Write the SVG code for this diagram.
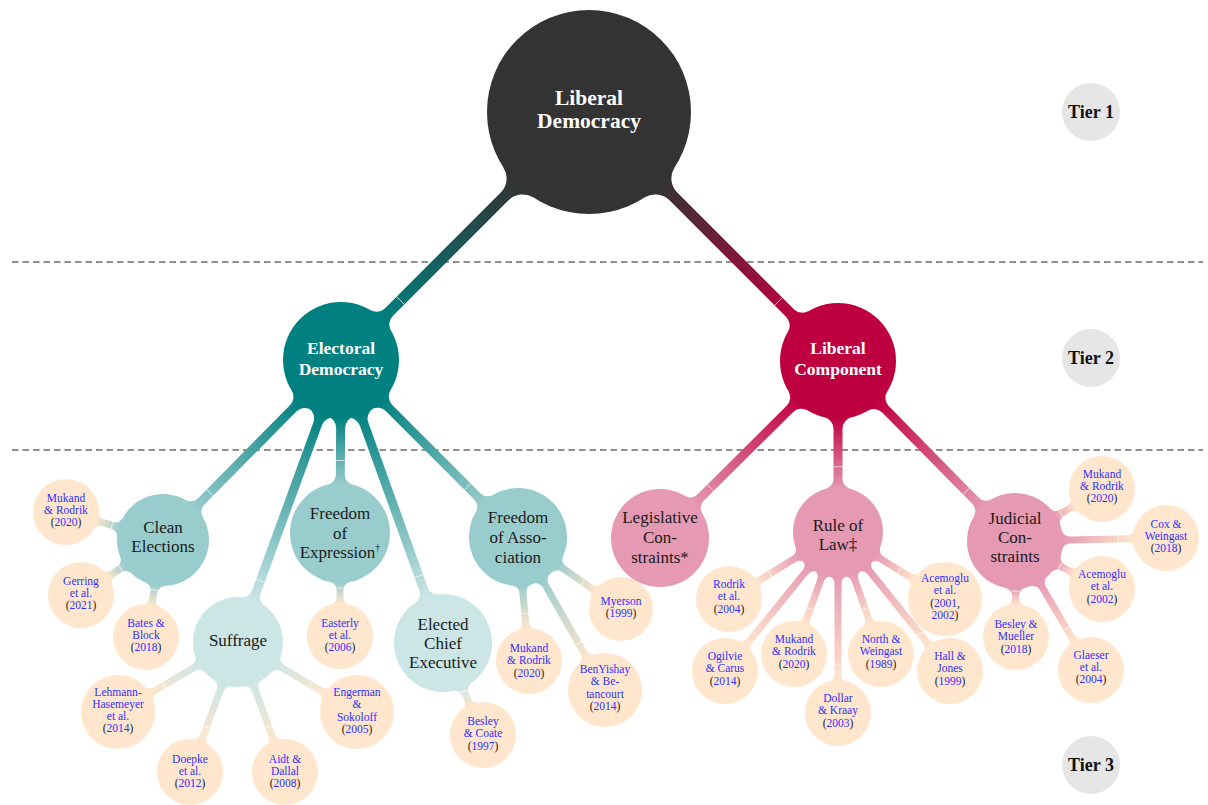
<svg xmlns="http://www.w3.org/2000/svg" width="1208" height="805" viewBox="0 0 1208 805">
<defs>
<style>
.dash{stroke:#222;stroke-width:1.1;stroke-dasharray:6.5 4;fill:none}
.mk{stroke:#fff;stroke-width:0.8;opacity:0.85;fill:none}
.root{fill:#333333}.ed{fill:#008080}.lc{fill:#bf0040}
.t4{fill:#99cccc}.t2{fill:#cce6e6}.p4{fill:#e599b3}.lf{fill:#ffe6cc}.tier{fill:#e6e6e6}
text{font-family:"Liberation Serif","DejaVu Serif",serif;text-anchor:middle}
.w1{font-size:21.5px;font-weight:bold;fill:#fff}
.w2{font-size:17.5px;font-weight:bold;fill:#fff}
.c3{font-size:17px;fill:#1a1a1a}
.lt{font-size:11.5px;fill:#3030ff}
.k{fill:#222}
.tl{font-size:18px;font-weight:bold;fill:#111}
</style>
<linearGradient id="gRE" x1="0" y1="0" x2="1" y2="0"><stop offset="0" stop-color="#333333"/><stop offset="1" stop-color="#008080"/></linearGradient>
<linearGradient id="gRL" x1="0" y1="0" x2="1" y2="0"><stop offset="0" stop-color="#333333"/><stop offset="1" stop-color="#bf0040"/></linearGradient>
<linearGradient id="gE4" x1="0" y1="0" x2="1" y2="0"><stop offset="0" stop-color="#008080"/><stop offset="1" stop-color="#99cccc"/></linearGradient>
<linearGradient id="gE2" x1="0" y1="0" x2="1" y2="0"><stop offset="0" stop-color="#008080"/><stop offset="1" stop-color="#cce6e6"/></linearGradient>
<linearGradient id="gLP" x1="0" y1="0" x2="1" y2="0"><stop offset="0" stop-color="#bf0040"/><stop offset="1" stop-color="#e599b3"/></linearGradient>
<linearGradient id="gT4" x1="0" y1="0" x2="1" y2="0"><stop offset="0" stop-color="#99cccc"/><stop offset="1" stop-color="#ffe6cc"/></linearGradient>
<linearGradient id="gT2" x1="0" y1="0" x2="1" y2="0"><stop offset="0" stop-color="#cce6e6"/><stop offset="1" stop-color="#ffe6cc"/></linearGradient>
<linearGradient id="gP4" x1="0" y1="0" x2="1" y2="0"><stop offset="0" stop-color="#e599b3"/><stop offset="1" stop-color="#ffe6cc"/></linearGradient>
</defs>

<g id="tier-lines">
<line class="dash" x1="12" y1="262" x2="1203" y2="262"/>
<line class="dash" x1="12" y1="450" x2="1203" y2="450"/>
</g>

<g id="connectors">
<g transform="translate(589,112) rotate(135)"><path fill="url(#gRE)" d="M99.75,-21.32A20 20 0 0 0 119.31,-5.5L282.94,-5.5A12 12 0 0 0 294.56,-14.5L294.56,14.5A12 12 0 0 0 282.94,5.5L119.31,5.5A20 20 0 0 0 99.75,21.32Z"/><path class="mk" d="M266.6,-5.5V5.5"/></g>
<g transform="translate(589,112) rotate(45)"><path fill="url(#gRL)" d="M99.75,-21.32A20 20 0 0 0 119.31,-5.5L284.36,-5.5A12 12 0 0 0 295.98,-14.5L295.98,14.5A12 12 0 0 0 284.36,5.5L119.31,5.5A20 20 0 0 0 99.75,21.32Z"/><path class="mk" d="M268,-5.5V5.5"/></g>

<g transform="translate(341,360) rotate(134.68)"><path fill="url(#gE4)" d="M56.37,-13.67A12 12 0 0 0 68.03,-4.5L199.06,-4.5A10 10 0 0 0 208.72,-11.91L208.72,11.91A10 10 0 0 0 199.06,4.5L68.03,4.5A12 12 0 0 0 56.37,13.67Z"/><path class="mk" d="M186.45,-4.5V4.5"/></g>
<g transform="translate(341,360) rotate(90.33)"><path fill="url(#gE4)" d="M56.37,-13.67A12 12 0 0 0 68.03,-4.5L114.78,-4.5A10 10 0 0 0 124.48,-12.08L124.48,12.08A10 10 0 0 0 114.78,4.5L68.03,4.5A12 12 0 0 0 56.37,13.67Z"/><path class="mk" d="M100.5,-4.5V4.5"/></g>
<g transform="translate(341,360) rotate(110.07)"><path fill="url(#gE2)" d="M56.37,-13.67A12 12 0 0 0 68.03,-4.5L247.17,-4.5A10 10 0 0 0 256.81,-11.86L256.81,11.86A10 10 0 0 0 247.17,4.5L68.03,4.5A12 12 0 0 0 56.37,13.67Z"/><path class="mk" d="M234.97,-4.5V4.5"/></g>
<g transform="translate(341,360) rotate(70.18)"><path fill="url(#gE2)" d="M56.37,-13.67A12 12 0 0 0 68.03,-4.5L243.63,-4.5A10 10 0 0 0 253.32,-12.04L253.32,12.04A10 10 0 0 0 243.63,4.5L68.03,4.5A12 12 0 0 0 56.37,13.67Z"/><path class="mk" d="M229.77,-4.5V4.5"/></g>
<g transform="translate(341,360) rotate(45)"><path fill="url(#gE4)" d="M56.37,-13.67A12 12 0 0 0 68.03,-4.5L193.13,-4.5A10 10 0 0 0 202.82,-12.04L202.82,12.04A10 10 0 0 0 193.13,4.5L68.03,4.5A12 12 0 0 0 56.37,13.67Z"/><path class="mk" d="M179.27,-4.5V4.5"/></g>
<g transform="translate(838,361) rotate(135.16)"><path fill="url(#gLP)" d="M56.37,-13.67A12 12 0 0 0 68.03,-4.5L193.83,-4.5A10 10 0 0 0 203.52,-12.04L203.52,12.04A10 10 0 0 0 193.83,4.5L68.03,4.5A12 12 0 0 0 56.37,13.67Z"/><path class="mk" d="M179.97,-4.5V4.5"/></g>
<g transform="translate(838,361) rotate(90)"><path fill="url(#gLP)" d="M56.37,-13.67A12 12 0 0 0 68.03,-4.5L117.95,-4.5A10 10 0 0 0 127.59,-11.86L127.59,11.86A10 10 0 0 0 117.95,4.5L68.03,4.5A12 12 0 0 0 56.37,13.67Z"/><path class="mk" d="M105.75,-4.5V4.5"/></g>
<g transform="translate(838,361) rotate(45.48)"><path fill="url(#gLP)" d="M56.37,-13.67A12 12 0 0 0 68.03,-4.5L196.29,-4.5A10 10 0 0 0 205.98,-12L205.98,12A10 10 0 0 0 196.29,4.5L68.03,4.5A12 12 0 0 0 56.37,13.67Z"/><path class="mk" d="M182.85,-4.5V4.5"/></g>

<g transform="translate(163,540) rotate(-163.9)"><path fill="url(#gT4)" d="M44.95,-9.8A8 8 0 0 0 52.76,-3.5L62.36,-3.5A7 7 0 0 0 69.12,-8.66L69.12,8.66A7 7 0 0 0 62.36,3.5L52.76,3.5A8 8 0 0 0 44.95,9.8Z"/><path class="mk" d="M53.11,-3.5V3.5"/></g>
<g transform="translate(163,540) rotate(146.15)"><path fill="url(#gT4)" d="M44.95,-9.8A8 8 0 0 0 52.76,-3.5L60.14,-3.5A7 7 0 0 0 66.9,-8.66L66.9,8.66A7 7 0 0 0 60.14,3.5L52.76,3.5A8 8 0 0 0 44.95,9.8Z"/><path class="mk" d="M50.89,-3.5V3.5"/></g>
<g transform="translate(163,540) rotate(99.94)"><path fill="url(#gT4)" d="M44.95,-9.8A8 8 0 0 0 52.76,-3.5L59.88,-3.5A7 7 0 0 0 66.64,-8.66L66.64,8.66A7 7 0 0 0 59.88,3.5L52.76,3.5A8 8 0 0 0 44.95,9.8Z"/><path class="mk" d="M50.63,-3.5V3.5"/></g>

<g transform="translate(238,642) rotate(149.74)"><path fill="url(#gT2)" d="M43.93,-9.76A8 8 0 0 0 51.74,-3.5L96.19,-3.5A7 7 0 0 0 102.99,-8.83L102.99,8.83A7 7 0 0 0 96.19,3.5L51.74,3.5A8 8 0 0 0 43.93,9.76Z"/><path class="mk" d="M85.27,-3.5V3.5"/></g>
<g transform="translate(238,642) rotate(110.27)"><path fill="url(#gT2)" d="M43.93,-9.76A8 8 0 0 0 51.74,-3.5L99.98,-3.5A7 7 0 0 0 106.74,-8.66L106.74,8.66A7 7 0 0 0 99.98,3.5L51.74,3.5A8 8 0 0 0 43.93,9.76Z"/><path class="mk" d="M90.73,-3.5V3.5"/></g>
<g transform="translate(238,642) rotate(70.12)"><path fill="url(#gT2)" d="M43.93,-9.76A8 8 0 0 0 51.74,-3.5L99.63,-3.5A7 7 0 0 0 106.39,-8.66L106.39,8.66A7 7 0 0 0 99.63,3.5L51.74,3.5A8 8 0 0 0 43.93,9.76Z"/><path class="mk" d="M90.38,-3.5V3.5"/></g>
<g transform="translate(238,642) rotate(30.47)"><path fill="url(#gT2)" d="M43.93,-9.76A8 8 0 0 0 51.74,-3.5L95.33,-3.5A7 7 0 0 0 102.13,-8.83L102.13,8.83A7 7 0 0 0 95.33,3.5L51.74,3.5A8 8 0 0 0 43.93,9.76Z"/><path class="mk" d="M84.41,-3.5V3.5"/></g>

<g transform="translate(340,533) rotate(90)"><path fill="url(#gT4)" d="M49.01,-9.91A8 8 0 0 0 56.85,-3.5L64.4,-3.5A7 7 0 0 0 71.16,-8.66L71.16,8.66A7 7 0 0 0 64.4,3.5L56.85,3.5A8 8 0 0 0 49.01,9.91Z"/><path class="mk" d="M55.15,-3.5V3.5"/></g>

<g transform="translate(443,643) rotate(66.5)"><path fill="url(#gT2)" d="M47.99,-9.89A8 8 0 0 0 55.83,-3.5L61.72,-3.5A7 7 0 0 0 68.48,-8.66L68.48,8.66A7 7 0 0 0 61.72,3.5L55.83,3.5A8 8 0 0 0 47.99,9.89Z"/><path class="mk" d="M52.47,-3.5V3.5"/></g>

<g transform="translate(518,537) rotate(84.93)"><path fill="url(#gT4)" d="M47.99,-9.89A8 8 0 0 0 55.83,-3.5L85.89,-3.5A7 7 0 0 0 92.65,-8.66L92.65,8.66A7 7 0 0 0 85.89,3.5L55.83,3.5A8 8 0 0 0 47.99,9.89Z"/><path class="mk" d="M76.64,-3.5V3.5"/></g>
<g transform="translate(518,537) rotate(60.38)"><path fill="url(#gT4)" d="M47.99,-9.89A8 8 0 0 0 55.83,-3.5L133.28,-3.5A7 7 0 0 0 140.08,-8.83L140.08,8.83A7 7 0 0 0 133.28,3.5L55.83,3.5A8 8 0 0 0 47.99,9.89Z"/><path class="mk" d="M122.36,-3.5V3.5"/></g>
<g transform="translate(518,537) rotate(34.96)"><path fill="url(#gT4)" d="M47.99,-9.89A8 8 0 0 0 55.83,-3.5L88.11,-3.5A7 7 0 0 0 94.85,-8.62L94.85,8.62A7 7 0 0 0 88.11,3.5L55.83,3.5A8 8 0 0 0 47.99,9.89Z"/><path class="mk" d="M79.27,-3.5V3.5"/></g>

<g transform="translate(838,532) rotate(148.42)"><path fill="url(#gP4)" d="M43.93,-9.76A8 8 0 0 0 51.74,-3.5L89.35,-3.5A7 7 0 0 0 96.11,-8.66L96.11,8.66A7 7 0 0 0 89.35,3.5L51.74,3.5A8 8 0 0 0 43.93,9.76Z"/><path class="mk" d="M80.1,-3.5V3.5"/></g>
<g transform="translate(838,532) rotate(129.11)"><path fill="url(#gP4)" d="M43.93,-9.76A8 8 0 0 0 51.74,-3.5L140.54,-3.5A7 7 0 0 0 147.3,-8.66L147.3,8.66A7 7 0 0 0 140.54,3.5L51.74,3.5A8 8 0 0 0 43.93,9.76Z"/><path class="mk" d="M131.29,-3.5V3.5"/></g>
<g transform="translate(838,532) rotate(109.83)"><path fill="url(#gP4)" d="M43.93,-9.76A8 8 0 0 0 51.74,-3.5L91.09,-3.5A7 7 0 0 0 97.85,-8.66L97.85,8.66A7 7 0 0 0 91.09,3.5L51.74,3.5A8 8 0 0 0 43.93,9.76Z"/><path class="mk" d="M81.84,-3.5V3.5"/></g>
<g transform="translate(838,532) rotate(90)"><path fill="url(#gP4)" d="M43.93,-9.76A8 8 0 0 0 51.74,-3.5L142.4,-3.5A7 7 0 0 0 149.16,-8.66L149.16,8.66A7 7 0 0 0 142.4,3.5L51.74,3.5A8 8 0 0 0 43.93,9.76Z"/><path class="mk" d="M133.15,-3.5V3.5"/></g>
<g transform="translate(838,532) rotate(70.59)"><path fill="url(#gP4)" d="M43.93,-9.76A8 8 0 0 0 51.74,-3.5L90.76,-3.5A7 7 0 0 0 97.52,-8.66L97.52,8.66A7 7 0 0 0 90.76,3.5L51.74,3.5A8 8 0 0 0 43.93,9.76Z"/><path class="mk" d="M81.51,-3.5V3.5"/></g>
<g transform="translate(838,532) rotate(51.14)"><path fill="url(#gP4)" d="M43.93,-9.76A8 8 0 0 0 51.74,-3.5L139.91,-3.5A7 7 0 0 0 146.67,-8.66L146.67,8.66A7 7 0 0 0 139.91,3.5L51.74,3.5A8 8 0 0 0 43.93,9.76Z"/><path class="mk" d="M130.66,-3.5V3.5"/></g>
<g transform="translate(838,532) rotate(32.05)"><path fill="url(#gP4)" d="M43.93,-9.76A8 8 0 0 0 51.74,-3.5L83.52,-3.5A7 7 0 0 0 90.32,-8.83L90.32,8.83A7 7 0 0 0 83.52,3.5L51.74,3.5A8 8 0 0 0 43.93,9.76Z"/><path class="mk" d="M72.6,-3.5V3.5"/></g>

<g transform="translate(1015,541) rotate(89.4)"><path fill="url(#gP4)" d="M46.98,-9.86A8 8 0 0 0 54.81,-3.5L57.41,-3.5A7 7 0 0 0 64.17,-8.66L64.17,8.66A7 7 0 0 0 57.41,3.5L54.81,3.5A8 8 0 0 0 46.98,9.86Z"/><path class="mk" d="M50.2,-3.5V3.5"/></g>
<g transform="translate(1015,541) rotate(59.5)"><path fill="url(#gP4)" d="M46.98,-9.86A8 8 0 0 0 54.81,-3.5L111.12,-3.5A7 7 0 0 0 117.88,-8.66L117.88,8.66A7 7 0 0 0 111.12,3.5L54.81,3.5A8 8 0 0 0 46.98,9.86Z"/><path class="mk" d="M101.87,-3.5V3.5"/></g>
<g transform="translate(1015,541) rotate(28.89)"><path fill="url(#gP4)" d="M46.98,-9.86A8 8 0 0 0 54.81,-3.5L60.76,-3.5A7 7 0 0 0 67.52,-8.66L67.52,8.66A7 7 0 0 0 60.76,3.5L54.81,3.5A8 8 0 0 0 46.98,9.86Z"/><path class="mk" d="M51.51,-3.5V3.5"/></g>
<g transform="translate(1015,541) rotate(-1.14)"><path fill="url(#gP4)" d="M46.98,-9.86A8 8 0 0 0 54.81,-3.5L112.43,-3.5A7 7 0 0 0 119.19,-8.66L119.19,8.66A7 7 0 0 0 112.43,3.5L54.81,3.5A8 8 0 0 0 46.98,9.86Z"/><path class="mk" d="M103.18,-3.5V3.5"/></g>
<g transform="translate(1015,541) rotate(-30.87)"><path fill="url(#gP4)" d="M46.98,-9.86A8 8 0 0 0 54.81,-3.5L62.76,-3.5A7 7 0 0 0 69.52,-8.66L69.52,8.66A7 7 0 0 0 62.76,3.5L54.81,3.5A8 8 0 0 0 46.98,9.86Z"/><path class="mk" d="M53.51,-3.5V3.5"/></g>
</g>

<g id="nodes">
<g id="n-liberal-democracy"><circle class="root" cx="589" cy="112" r="102"/><text class="w1"><tspan x="589" y="105">Liberal</tspan><tspan x="589" y="128">Democracy</tspan></text></g>
<g id="n-electoral-democracy"><circle class="ed" cx="341" cy="360" r="58"/><text class="w2"><tspan x="341" y="354">Electoral</tspan><tspan x="341" y="375">Democracy</tspan></text></g>
<g id="n-liberal-component"><circle class="lc" cx="838" cy="361" r="58"/><text class="w2"><tspan x="838" y="354">Liberal</tspan><tspan x="838" y="375">Component</tspan></text></g>

<g id="n-clean-elections"><circle class="t4" cx="163" cy="540" r="46"/><text class="c3"><tspan x="163" y="533">Clean</tspan><tspan x="163" y="552">Elections</tspan></text></g>
<g id="n-freedom-expression"><circle class="t4" cx="340" cy="533" r="50"/><text class="c3"><tspan x="340" y="519">Freedom</tspan><tspan x="340" y="538.5">of</tspan><tspan x="340" y="558">Expression<tspan dy="-7" font-size="10">†</tspan></tspan></text></g>
<g id="n-suffrage"><circle class="t2" cx="238" cy="642" r="45"/><text class="c3"><tspan x="238" y="646">Suffrage</tspan></text></g>
<g id="n-elected-chief-executive"><circle class="t2" cx="443" cy="643" r="49"/><text class="c3"><tspan x="443" y="630">Elected</tspan><tspan x="443" y="649">Chief</tspan><tspan x="443" y="668">Executive</tspan></text></g>
<g id="n-freedom-association"><circle class="t4" cx="518" cy="537" r="49"/><text class="c3"><tspan x="518" y="523">Freedom</tspan><tspan x="518" y="543">of Asso-</tspan><tspan x="518" y="563">ciation</tspan></text></g>
<g id="n-legislative-constraints"><circle class="p4" cx="660" cy="538" r="49"/><text class="c3"><tspan x="660" y="523">Legislative</tspan><tspan x="660" y="543">Con-</tspan><tspan x="660" y="563">straints*</tspan></text></g>
<g id="n-rule-of-law"><circle class="p4" cx="838" cy="532" r="45"/><text class="c3"><tspan x="838" y="531">Rule of</tspan><tspan x="838" y="550">Law‡</tspan></text></g>
<g id="n-judicial-constraints"><circle class="p4" cx="1015" cy="541" r="48"/><text class="c3"><tspan x="1015" y="524">Judicial</tspan><tspan x="1015" y="543">Con-</tspan><tspan x="1015" y="562">straints</tspan></text></g>

<g id="n-ce-mukand-rodrik"><circle class="lf" cx="66" cy="512" r="33"/><text class="lt"><tspan x="66" y="501.5">Mukand</tspan><tspan x="66" y="513.8">&amp; Rodrik</tspan><tspan x="66" y="526"><tspan class="k">(</tspan>2020<tspan class="k">)</tspan></tspan></text></g>
<g id="n-gerring"><circle class="lf" cx="81" cy="595" r="33"/><text class="lt"><tspan x="81" y="584.5">Gerring</tspan><tspan x="81" y="596.8">et al.</tspan><tspan x="81" y="609"><tspan class="k">(</tspan>2021<tspan class="k">)</tspan></tspan></text></g>
<g id="n-bates-block"><circle class="lf" cx="146" cy="637" r="33"/><text class="lt"><tspan x="146" y="626.5">Bates &amp;</tspan><tspan x="146" y="638.8">Block</tspan><tspan x="146" y="651"><tspan class="k">(</tspan>2018<tspan class="k">)</tspan></tspan></text></g>
<g id="n-lehmann"><circle class="lf" cx="118" cy="712" r="37"/><text class="lt"><tspan x="118" y="695.5">Lehmann-</tspan><tspan x="118" y="707.8">Hasemeyer</tspan><tspan x="118" y="720.1">et al.</tspan><tspan x="118" y="732.4"><tspan class="k">(</tspan>2014<tspan class="k">)</tspan></tspan></text></g>
<g id="n-doepke"><circle class="lf" cx="190" cy="772" r="33"/><text class="lt"><tspan x="190" y="762.5">Doepke</tspan><tspan x="190" y="774.8">et al.</tspan><tspan x="190" y="787"><tspan class="k">(</tspan>2012<tspan class="k">)</tspan></tspan></text></g>
<g id="n-aidt-dallal"><circle class="lf" cx="285" cy="772" r="33"/><text class="lt"><tspan x="285" y="762.5">Aidt &amp;</tspan><tspan x="285" y="774.8">Dallal</tspan><tspan x="285" y="787"><tspan class="k">(</tspan>2008<tspan class="k">)</tspan></tspan></text></g>
<g id="n-engerman"><circle class="lf" cx="357" cy="712" r="37"/><text class="lt"><tspan x="357" y="696">Engerman</tspan><tspan x="357" y="708.3">&amp;</tspan><tspan x="357" y="720.5">Sokoloff</tspan><tspan x="357" y="732.7"><tspan class="k">(</tspan>2005<tspan class="k">)</tspan></tspan></text></g>
<g id="n-easterly"><circle class="lf" cx="340" cy="636" r="33"/><text class="lt"><tspan x="340" y="626.5">Easterly</tspan><tspan x="340" y="638.8">et al.</tspan><tspan x="340" y="651"><tspan class="k">(</tspan>2006<tspan class="k">)</tspan></tspan></text></g>
<g id="n-besley-coate"><circle class="lf" cx="483" cy="735" r="33"/><text class="lt"><tspan x="483" y="725">Besley</tspan><tspan x="483" y="737.3">&amp; Coate</tspan><tspan x="483" y="749.5"><tspan class="k">(</tspan>1997<tspan class="k">)</tspan></tspan></text></g>
<g id="n-foa-mukand-rodrik"><circle class="lf" cx="529" cy="661" r="33"/><text class="lt"><tspan x="529" y="652">Mukand</tspan><tspan x="529" y="664.3">&amp; Rodrik</tspan><tspan x="529" y="676.5"><tspan class="k">(</tspan>2020<tspan class="k">)</tspan></tspan></text></g>
<g id="n-benyishay"><circle class="lf" cx="605" cy="690" r="37"/><text class="lt"><tspan x="605" y="673">BenYishay</tspan><tspan x="605" y="685.3">&amp; Be-</tspan><tspan x="605" y="697.6">tancourt</tspan><tspan x="605" y="709.9"><tspan class="k">(</tspan>2014<tspan class="k">)</tspan></tspan></text></g>
<g id="n-myerson"><circle class="lf" cx="621" cy="609" r="32"/><text class="lt"><tspan x="621" y="605">Myerson</tspan><tspan x="621" y="617.3"><tspan class="k">(</tspan>1999<tspan class="k">)</tspan></tspan></text></g>
<g id="n-rodrik"><circle class="lf" cx="729" cy="599" r="33"/><text class="lt"><tspan x="729" y="588">Rodrik</tspan><tspan x="729" y="600.3">et al.</tspan><tspan x="729" y="612.5"><tspan class="k">(</tspan>2004<tspan class="k">)</tspan></tspan></text></g>
<g id="n-ogilvie"><circle class="lf" cx="725" cy="671" r="33"/><text class="lt"><tspan x="725" y="660">Ogilvie</tspan><tspan x="725" y="672.3">&amp; Carus</tspan><tspan x="725" y="684.5"><tspan class="k">(</tspan>2014<tspan class="k">)</tspan></tspan></text></g>
<g id="n-rol-mukand-rodrik"><circle class="lf" cx="794" cy="654" r="33"/><text class="lt"><tspan x="794" y="643">Mukand</tspan><tspan x="794" y="655.3">&amp; Rodrik</tspan><tspan x="794" y="667.5"><tspan class="k">(</tspan>2020<tspan class="k">)</tspan></tspan></text></g>
<g id="n-dollar-kraay"><circle class="lf" cx="838" cy="713" r="33"/><text class="lt"><tspan x="838" y="702">Dollar</tspan><tspan x="838" y="714.3">&amp; Kraay</tspan><tspan x="838" y="726.5"><tspan class="k">(</tspan>2003<tspan class="k">)</tspan></tspan></text></g>
<g id="n-north-weingast"><circle class="lf" cx="881" cy="654" r="33"/><text class="lt"><tspan x="881" y="643">North &amp;</tspan><tspan x="881" y="655.3">Weingast</tspan><tspan x="881" y="667.5"><tspan class="k">(</tspan>1989<tspan class="k">)</tspan></tspan></text></g>
<g id="n-hall-jones"><circle class="lf" cx="950" cy="671" r="33"/><text class="lt"><tspan x="950" y="660">Hall &amp;</tspan><tspan x="950" y="672.3">Jones</tspan><tspan x="950" y="684.5"><tspan class="k">(</tspan>1999<tspan class="k">)</tspan></tspan></text></g>
<g id="n-acemoglu-2001"><circle class="lf" cx="945" cy="599" r="37"/><text class="lt"><tspan x="945" y="582">Acemoglu</tspan><tspan x="945" y="594.3">et al.</tspan><tspan x="945" y="606.6"><tspan class="k">(</tspan>2001<tspan class="k">,</tspan></tspan><tspan x="945" y="618.9">2002<tspan class="k">)</tspan></tspan></text></g>
<g id="n-besley-mueller"><circle class="lf" cx="1016" cy="637" r="33"/><text class="lt"><tspan x="1016" y="628">Besley &amp;</tspan><tspan x="1016" y="640.3">Mueller</tspan><tspan x="1016" y="652.5"><tspan class="k">(</tspan>2018<tspan class="k">)</tspan></tspan></text></g>
<g id="n-glaeser"><circle class="lf" cx="1091" cy="670" r="33"/><text class="lt"><tspan x="1091" y="658.5">Glaeser</tspan><tspan x="1091" y="670.8">et al.</tspan><tspan x="1091" y="683"><tspan class="k">(</tspan>2004<tspan class="k">)</tspan></tspan></text></g>
<g id="n-acemoglu-2002"><circle class="lf" cx="1102" cy="589" r="33"/><text class="lt"><tspan x="1102" y="578">Acemoglu</tspan><tspan x="1102" y="590.3">et al.</tspan><tspan x="1102" y="602.5"><tspan class="k">(</tspan>2002<tspan class="k">)</tspan></tspan></text></g>
<g id="n-cox-weingast"><circle class="lf" cx="1166" cy="538" r="33"/><text class="lt"><tspan x="1166" y="527.5">Cox &amp;</tspan><tspan x="1166" y="539.8">Weingast</tspan><tspan x="1166" y="552"><tspan class="k">(</tspan>2018<tspan class="k">)</tspan></tspan></text></g>
<g id="n-jc-mukand-rodrik"><circle class="lf" cx="1102" cy="489" r="33"/><text class="lt"><tspan x="1102" y="477.5">Mukand</tspan><tspan x="1102" y="489.8">&amp; Rodrik</tspan><tspan x="1102" y="502"><tspan class="k">(</tspan>2020<tspan class="k">)</tspan></tspan></text></g>
</g>

<g id="tier-labels">
<g id="tier-1"><circle class="tier" cx="1091" cy="112" r="29"/><text class="tl" x="1091" y="118">Tier 1</text></g>
<g id="tier-2"><circle class="tier" cx="1091" cy="358" r="29"/><text class="tl" x="1091" y="364">Tier 2</text></g>
<g id="tier-3"><circle class="tier" cx="1091" cy="765" r="29"/><text class="tl" x="1091" y="771">Tier 3</text></g>
</g>
</svg>
